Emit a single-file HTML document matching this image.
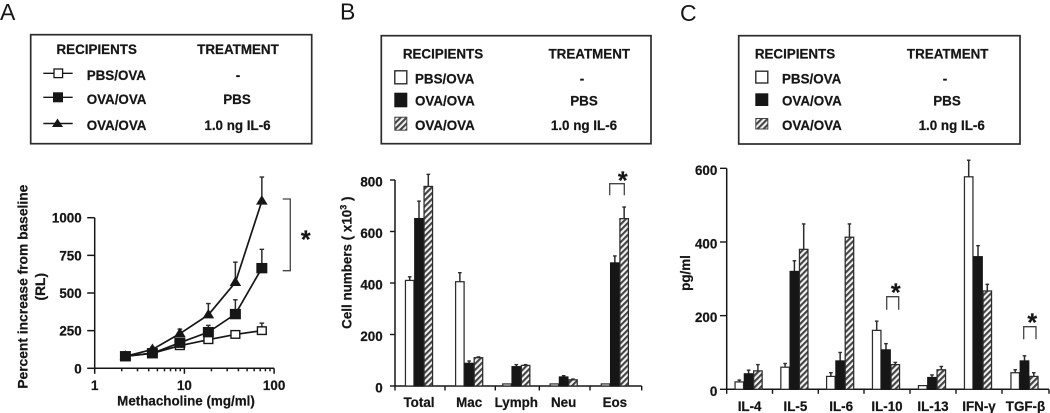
<!DOCTYPE html>
<html lang="en">
<head>
<meta charset="utf-8">
<title>Airway responsiveness, BAL cell counts and cytokines</title>
<style>
html,body{margin:0;padding:0;background:#fff;width:1050px;height:413px;overflow:hidden}
svg{display:block;filter:blur(.35px)}
text{font-family:"Liberation Sans",Arial,sans-serif;font-weight:700;font-size:13.4px;fill:#161616;stroke:#161616;stroke-width:.22px}
.letter{font-weight:400;font-size:23px;stroke-width:0}
.head{text-anchor:middle}
.mid{text-anchor:middle}
.box{fill:#fff;stroke:#2c2c2c;stroke-width:1.7}
.ln{stroke:#161616;stroke-width:1.4;fill:none}
.star{font-size:25px;text-anchor:middle}
.ytitle{font-size:13.8px}
</style>
</head>
<body>
<svg id="figure" width="1050" height="413" viewBox="0 0 1050 413" xmlns="http://www.w3.org/2000/svg">
<defs>
<pattern id="hatch" width="4.2" height="4.2" patternUnits="userSpaceOnUse" patternTransform="rotate(-45)">
<rect width="4.2" height="4.2" fill="#f2f2f2"/>
<rect width="4.2" height="2.1" fill="#444"/>
</pattern>
</defs>
<rect width="1050" height="413" fill="#fff"/>

<text class="letter" x="0" y="20">A</text>
<text class="letter" x="340" y="19.5">B</text>
<text class="letter" x="680" y="21">C</text>

<g>
<rect class="box" x="30.7" y="34.7" width="281" height="109"/>
<text class="head" x="96.7" y="54">RECIPIENTS</text>
<text class="head" x="238" y="54">TREATMENT</text>
<g>
<line class="ln" x1="43.3" x2="72.7" y1="73.3" y2="73.3"/>
<rect x="54" y="69" width="8.6" height="8.6" fill="#fff" stroke="#161616" stroke-width="1.3"/>
<text x="86.7" y="80">PBS/OVA</text>
<text class="mid" x="238" y="80">-</text>
</g>
<g>
<line class="ln" x1="43.3" x2="72.7" y1="97.3" y2="97.3"/>
<rect x="53" y="92.3" width="10" height="10" fill="#161616"/>
<text x="86.7" y="104">OVA/OVA</text>
<text class="mid" x="237" y="104">PBS</text>
</g>
<g>
<line class="ln" x1="43.3" x2="72.7" y1="123.5" y2="123.5"/>
<polygon points="57.5,118.5 63,127 52,127" fill="#161616"/>
<text x="86.7" y="130">OVA/OVA</text>
<text class="mid" x="237.5" y="130">1.0 ng IL-6</text>
</g>
</g>

<g>
<rect class="box" x="381.3" y="35.7" width="269.7" height="108"/>
<text class="head" x="443" y="58.7">RECIPIENTS</text>
<text class="head" x="589.3" y="58.7">TREATMENT</text>
<g>
<rect x="394.8" y="70.8" width="12" height="13" fill="#fff" stroke="#2c2c2c" stroke-width="1.4"/>
<text x="415" y="83.4">PBS/OVA</text>
<text class="mid" x="582" y="83.4">-</text>
</g>
<g>
<rect x="394.3" y="92.7" width="13" height="14.6" fill="#161616"/>
<text x="415" y="105.4">OVA/OVA</text>
<text class="mid" x="584" y="105.4">PBS</text>
</g>
<g>
<rect x="394.8" y="117.2" width="12" height="13" fill="url(#hatch)" stroke="#444" stroke-width="1"/>
<text x="415" y="130">OVA/OVA</text>
<text class="mid" x="584" y="130">1.0 ng IL-6</text>
</g>
</g>

<g>
<rect class="box" x="738.7" y="35.7" width="281.3" height="108.3"/>
<text class="head" x="795" y="58.7">RECIPIENTS</text>
<text class="head" x="947.7" y="58.7">TREATMENT</text>
<g>
<rect x="755.8" y="71.2" width="12" height="11.8" fill="#fff" stroke="#2c2c2c" stroke-width="1.4"/>
<text x="782" y="83.7">PBS/OVA</text>
<text class="mid" x="945" y="83.7">-</text>
</g>
<g>
<rect x="755.3" y="93.3" width="13" height="12.7" fill="#161616"/>
<text x="782" y="105.7">OVA/OVA</text>
<text class="mid" x="947" y="105.7">PBS</text>
</g>
<g>
<rect x="755.8" y="118.5" width="12" height="10.5" fill="url(#hatch)" stroke="#444" stroke-width="1"/>
<text x="782" y="130">OVA/OVA</text>
<text class="mid" x="951.7" y="130">1.0 ng IL-6</text>
</g>
</g>

<text class="mid ytitle" transform="translate(27.5,286.7) rotate(-90)">Percent increase from baseline</text>
<text class="mid ytitle" transform="translate(45,286.7) rotate(-90)">(RL)</text>
<text class="mid" x="186" y="405.5">Methacholine (mg/ml)</text>
<text class="mid" transform="translate(351.5,262.7) rotate(-90)">Cell numbers ( x10<tspan dy="-5" font-size="9">3</tspan><tspan dy="5"> )</tspan></text>
<text class="mid" transform="translate(690,273) rotate(-90)">pg/ml</text>

<g id="chart-a"></g>
<g id="chart-b"></g>
<g id="chart-c"></g>

<g>
<polyline points="282.7,199 290.3,199 290.3,270.7 282.7,270.7" fill="none" stroke="#444" stroke-width="1.3"/>
<text class="star" x="305.7" y="248">*</text>
</g>
<g>
<polyline points="609.7,195.3 609.7,183.7 624.3,183.7 624.3,195.3" fill="none" stroke="#444" stroke-width="1.3"/>
<text class="star" x="622.7" y="189">*</text>
</g>
<g>
<polyline points="886.7,309.7 886.7,296.7 898.7,296.7 898.7,309.7" fill="none" stroke="#444" stroke-width="1.3"/>
<text class="star" x="895.7" y="301">*</text>
<polyline points="1023.7,339.3 1023.7,326.7 1036,326.7 1036,339.3" fill="none" stroke="#444" stroke-width="1.3"/>
<text class="star" x="1032.3" y="331">*</text>
</g>
</svg>

<script>
// Chart A: methacholine dose response
const doses = [2.2, 4.4, 8.9, 18.5, 37, 73];
const pbsRL = [80, 100, 150, 190, 225, 250];
const pbsRLErr = [5, 8, 15, 20, 20, 50];
const ovaRL = [80, 100, 170, 240, 360, 665];
const ovaRLErr = [5, 15, 25, 45, 95, 125];
const il6RL = [80, 125, 230, 355, 570, 1110];
const il6RLErr = [5, 15, 30, 75, 135, 160];
const rlTicks = [0, 250, 500, 750, 1000];
const doseTicks = [1, 10, 100];
const doseMinorTicks = [2, 3, 4, 5, 6, 7, 8, 9, 20, 30, 40, 50, 60, 70, 80, 90];

// Chart B: BAL cell counts
const cellTypes = ['Total', 'Mac', 'Lymph', 'Neu', 'Eos'];
const cellPbs = [410, 405, 8, 8, 8];
const cellPbsErr = [424, 440, 8, 8, 8];
const cellOva = [650, 88, 75, 35, 478];
const cellOvaErr = [718, 97, 83, 40, 505];
const cellIl6 = [775, 110, 80, 24, 650];
const cellIl6Err = [822, 113, 83, 27, 695];
const cellTicks = [0, 200, 400, 600, 800];

// Chart C: cytokines
const cytokines = ['IL-4', 'IL-5', 'IL-6', 'IL-10', 'IL-13', 'IFN-γ', 'TGF-β'];
const cytoPbs = [20, 60, 35, 160, 10, 577, 45];
const cytoPbsErr = [25, 70, 45, 185, 10, 622, 53];
const cytoOva = [42, 320, 77, 107, 32, 360, 77];
const cytoOvaErr = [52, 349, 100, 124, 39, 390, 91];
const cytoIl6 = [50, 380, 413, 67, 53, 267, 35];
const cytoIl6Err = [67, 449, 449, 73, 62, 285, 45];
const cytoTicks = [0, 200, 400, 600];

const NS = 'http://www.w3.org/2000/svg';
const INK = '#161616';
const ERR = '#2c2c2c';

function mk(parent, tag, attrs, name, text) {
  const el = document.createElementNS(NS, tag);
  for (const k in attrs) el.setAttribute(k, attrs[k]);
  
  
  if (text !== undefined) el.textContent = text;
  parent.appendChild(el);
  return el;
}
function seg(parent, x1, y1, x2, y2, name, color, width) {
  return mk(parent, 'line', {x1, y1, x2, y2, stroke: color || INK, 'stroke-width': width || 1.5}, name);
}

/* ---------- Chart A ---------- */
(function () {
  const g = document.getElementById('chart-a');
  const x = d => 94.7 + Math.log10(d) * 89.7;
  const y = v => 368.3 - v * 0.1506;
  seg(g, x(1), y(0), x(100), y(0), 'chart-a-x-axis');
  seg(g, x(1), y(0), x(1), y(1000), 'chart-a-y-axis');
  rlTicks.forEach(t => {
    seg(g, x(1) - 7.5, y(t), x(1), y(t), 'chart-a-y-tick-' + t);
    mk(g, 'text', {x: 81.7, y: y(t) + 5, 'text-anchor': 'end'}, 'chart-a-y-label-' + t, t);
  });
  doseTicks.forEach(t => {
    seg(g, x(t), y(0), x(t), y(0) + 5.5, 'chart-a-x-tick-' + t);
    mk(g, 'text', {x: x(t), y: 389.8, 'text-anchor': 'middle'}, 'chart-a-x-label-' + t, t);
  });
  doseMinorTicks.forEach(t => {
    seg(g, x(t), y(0), x(t), y(0) + 3, 'chart-a-x-minor-tick-' + t);
  });
  const series = [
    {key: 'pbs', v: pbsRL, e: pbsRLErr, m: 'open'},
    {key: 'ova', v: ovaRL, e: ovaRLErr, m: 'square'},
    {key: 'il6', v: il6RL, e: il6RLErr, m: 'tri'}
  ];
  series.forEach(s => {
    const pts = doses.map((d, i) => x(d) + ',' + y(s.v[i])).join(' ');
    s.v.forEach((v, i) => {
      seg(g, x(doses[i]), y(v), x(doses[i]), y(v + s.e[i]), 'chart-a-error-' + s.key + '-' + i, ERR, 1.5);
      seg(g, x(doses[i]) - 2.3, y(v + s.e[i]), x(doses[i]) + 2.3, y(v + s.e[i]), 'chart-a-error-cap-' + s.key + '-' + i, ERR, 1.4);
    });
    mk(g, 'polyline', {points: pts, fill: 'none', stroke: INK, 'stroke-width': 1.7}, 'chart-a-line-' + s.key);
  });
  series.forEach(s => {
    s.v.forEach((v, i) => {
      const cx = x(doses[i]), cy = y(v);
      if (s.m === 'open') {
        mk(g, 'rect', {x: cx - 4.4, y: cy - 3.8, width: 8.8, height: 7.6, fill: '#fff', stroke: INK, 'stroke-width': 1.4}, 'chart-a-point-' + s.key + '-' + i);
      } else if (s.m === 'square') {
        mk(g, 'rect', {x: cx - 5.5, y: cy - 5.2, width: 11, height: 10.4, fill: INK}, 'chart-a-point-' + s.key + '-' + i);
      } else {
        mk(g, 'polygon', {points: cx + ',' + (cy - 6) + ' ' + (cx + 5.8) + ',' + (cy + 3.5) + ' ' + (cx - 5.8) + ',' + (cy + 3.5), fill: INK}, 'chart-a-point-' + s.key + '-' + i);
      }
    });
  });
})();

/* ---------- shared bar drawing ---------- */
function drawBars(cfg) {
  const g = document.getElementById(cfg.id);
  const y = v => cfg.y0 - v * cfg.k;
  const n = cfg.cats.length;
  const left = cfg.edges[0], right = cfg.edges[n];
  seg(g, left, y(0), right, y(0), cfg.prefix + '-x-axis', INK, 1.5);
  seg(g, left, y(0), left, y(cfg.ticks[cfg.ticks.length - 1]), cfg.prefix + '-y-axis', INK, 1.5);
  cfg.ticks.forEach(t => {
    seg(g, left - cfg.tickLen, y(t), left, y(t), cfg.prefix + '-y-tick-' + t, INK, 1.4);
    mk(g, 'text', {x: cfg.labelX, y: y(t) + 6.6, 'text-anchor': 'end'}, cfg.prefix + '-y-label-' + t, t);
  });
  cfg.edges.forEach((e, i) => {
    seg(g, e, y(0), e, y(0) + 4.5, cfg.prefix + '-x-tick-' + i, INK, 1.4);
  });
  const kinds = [
    {key: 'pbs', v: cfg.pbs, e: cfg.pbsErr, fill: '#fff', stroke: '#2c2c2c'},
    {key: 'ova', v: cfg.ova, e: cfg.ovaErr, fill: INK, stroke: INK},
    {key: 'il6', v: cfg.il6, e: cfg.il6Err, fill: 'url(#hatch)', stroke: '#2c2c2c'}
  ];
  cfg.cats.forEach((c, i) => {
    const mid = (cfg.edges[i] + cfg.edges[i + 1]) / 2 + cfg.shift;
    const slug = String(c).toLowerCase().replace(/[^a-z0-9]+/g, '-');
    mk(g, 'text', {x: mid + cfg.labelShift, y: cfg.catY, 'text-anchor': 'middle'}, cfg.prefix + '-x-label-' + slug, c);
    kinds.forEach((s, j) => {
      const bx = mid + (j - 1.5) * cfg.bw;
      const top = y(s.e[i]);
      const cx = bx + cfg.bw / 2;
      if (s.e[i] > s.v[i]) {
        seg(g, cx, y(s.v[i]), cx, top, cfg.prefix + '-error-' + slug + '-' + s.key, ERR, 1.5);
        seg(g, cx - 1.8, top, cx + 1.8, top, cfg.prefix + '-error-cap-' + slug + '-' + s.key, ERR, 1.4);
      }
      mk(g, 'rect', {x: bx + 0.4, y: y(s.v[i]), width: cfg.bw - 0.8, height: s.v[i] * cfg.k, fill: s.fill, stroke: s.stroke, 'stroke-width': 1.25}, cfg.prefix + '-bar-' + slug + '-' + s.key);
    });
  });
}

drawBars({
  id: 'chart-b', prefix: 'chart-b', cats: cellTypes, ticks: cellTicks,
  pbs: cellPbs, pbsErr: cellPbsErr, ova: cellOva, ovaErr: cellOvaErr, il6: cellIl6, il6Err: cellIl6Err,
  y0: 386, k: 0.2575, edges: [395, 445, 495.3, 539.3, 590, 641.7],
  bw: 9.3, shift: -1, labelShift: 0, tickLen: 5, labelX: 382.7, catY: 407
});

drawBars({
  id: 'chart-c', prefix: 'chart-c', cats: cytokines, ticks: cytoTicks,
  pbs: cytoPbs, pbsErr: cytoPbsErr, ova: cytoOva, ovaErr: cytoOvaErr, il6: cytoIl6, il6Err: cytoIl6Err,
  y0: 389.3, k: 0.3683, edges: [726.7, 772.5, 818.3, 864, 910, 956, 1002, 1049],
  bw: 9.3, shift: -1, labelShift: 1, tickLen: 6.7, labelX: 717.3, catY: 411
});
</script>
</body>
</html>
